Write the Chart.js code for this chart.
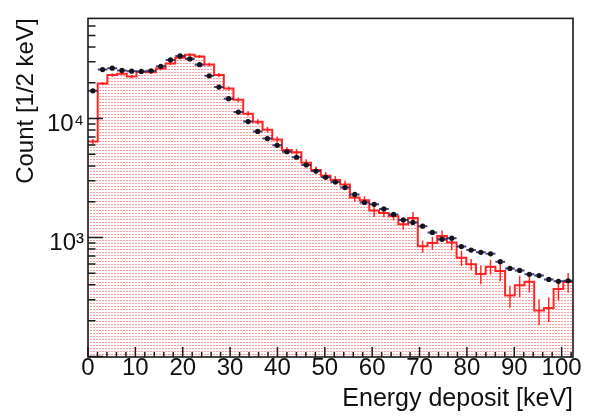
<!DOCTYPE html>
<html>
<head>
<meta charset="utf-8">
<script src="https://cdn.jsdelivr.net/npm/chart.js@4.4.1/dist/chart.umd.min.js"></script>
<style>
  body { margin: 0; background: #fff; }
  #wrap { width: 594px; height: 416px; }
</style>
</head>
<body>
<div id="wrap"><canvas id="edep" width="594" height="416"></canvas></div>
<script>
// binning (50 bins)
const nBins = 50
const binWidth = 2.048
const xMax = 102.4

// red histogram, counts per bin
const mcCounts = [
  6400, 19700, 23200, 23800, 22600, 24700, 24500, 26300, 29000, 32400,
  34400, 33300, 28500, 23200, 17900, 14400, 11000, 9400, 8040, 6670,
  5450, 5220, 4250, 3700, 3310, 3050, 2785, 2170, 2060, 1690,
  1607, 1510, 1290, 1460, 845, 900, 1030, 906, 675, 596,
  494, 568, 523, 325, 397, 425, 243, 255, 369, 423
]
const mcErrors = [
  320, 600, 700, 700, 680, 740, 740, 790, 860, 970,
  1030, 1000, 1000, 930, 720, 650, 550, 470, 440, 400,
  330, 340, 300, 260, 250, 240, 220, 175, 165, 200,
  130, 120, 130, 175, 100, 110, 115, 125, 100, 65,
  90, 80, 95, 68, 80, 80, 60, 60, 74, 80
]

// black points, counts per bin
const dataCounts = [
  17100, 25800, 26500, 25400, 25000, 24900, 25200, 27500, 31100, 33600,
  31700, 28400, 22850, 18400, 14700, 11340, 9430, 7800, 6790, 5960,
  5260, 4730, 4070, 3620, 3210, 2930, 2630, 2305, 1970, 1900,
  1740, 1565, 1405, 1340, 1245, 1104, 968, 987, 840, 784,
  751, 730, 626, 550, 529, 491, 479, 444, 428, 433
]

// axis ticks
const xTicks = [0, 10, 20, 30, 40, 50, 60, 70, 80, 90, 100]
const yTicks = [1000, 10000]
const yTickLabels = ['10³', '10⁴']

Chart.defaults.font.family = "'Liberation Sans', Arial, sans-serif"
Chart.defaults.color = '#111'

function makeFillPattern() {
  const c = document.createElement('canvas')
  c.width = 3
  c.height = 3
  const g = c.getContext('2d')
  g.fillStyle = '#ff9c9c'
  g.fillRect(0, 0, 2, 1)
  return g.createPattern(c, 'repeat')
}

let histPts = []
let mcErrPts = []
let xErrPts = []
let dataPts = []

for (let i = 0; i < nBins; i++) {
  const lo = i * binWidth
  const hi = lo + binWidth
  const mid = lo + binWidth / 2
  histPts.push({x: lo, y: mcCounts[i]})
  mcErrPts.push({x: mid, y: mcCounts[i] - mcErrors[i]}, {x: mid, y: mcCounts[i] + mcErrors[i]}, {x: mid, y: null})
  xErrPts.push({x: lo, y: dataCounts[i]}, {x: hi, y: dataCounts[i]}, {x: hi, y: null})
  dataPts.push({x: mid, y: dataCounts[i]})
}
histPts.push({x: xMax, y: mcCounts[nBins - 1]})

const frameTicks = {
  id: 'frameTicks',
  afterDatasetsDraw(chart) {
    const {ctx, chartArea: a, scales: {x, y}} = chart
    ctx.save()
    ctx.strokeStyle = '#1a1a1a'
    ctx.lineWidth = 1.5
    ctx.beginPath()
    for (let v = 0; v <= xMax; v += 2) {
      const px = x.getPixelForValue(v)
      const len = v % 10 === 0 ? 10 : 5
      ctx.moveTo(px, a.bottom)
      ctx.lineTo(px, a.bottom - len)
    }
    for (let dec = 100; dec <= 10000; dec *= 10) {
      for (let m = 1; m <= 9; m++) {
        const v = m * dec
        if (v < y.min || v > y.max) continue
        const py = y.getPixelForValue(v)
        const len = m === 1 ? 15 : 7.5
        ctx.moveTo(a.left, py)
        ctx.lineTo(a.left + len, py)
      }
    }
    ctx.stroke()
    ctx.lineWidth = 1.6
    ctx.strokeRect(a.left, a.top, a.right - a.left, a.bottom - a.top)
    ctx.restore()
  }
}

const edepChart = new Chart('edep', {
  type: 'line',
  data: {
    datasets: [{
      label: 'data',
      type: 'scatter',
      data: dataPts,
      pointStyle: 'circle',
      pointRadius: 2.6,
      pointBackgroundColor: '#151515',
      pointBorderWidth: 0,
      order: 0
    }, {
      label: 'data x-err',
      data: xErrPts,
      borderColor: 'rgba(35,35,125,0.85)',
      borderWidth: 2,
      pointRadius: 0,
      spanGaps: false,
      order: 1
    }, {
      label: 'mc err',
      data: mcErrPts,
      borderColor: 'rgba(255,20,20,0.9)',
      borderWidth: 1.5,
      pointRadius: 0,
      spanGaps: false,
      order: 2
    }, {
      label: 'mc',
      data: histPts,
      stepped: 'before',
      borderColor: 'rgba(255,20,20,0.92)',
      borderWidth: 2,
      pointRadius: 0,
      fill: 'start',
      backgroundColor: makeFillPattern(),
      order: 3
    }]
  },
  options: {
    responsive: false,
    animation: false,
    layout: { padding: { top: 9, right: 21, left: 0, bottom: 0 } },
    plugins: {
      legend: { display: false },
      tooltip: { enabled: false }
    },
    scales: {
      x: {
        type: 'linear',
        min: 0,
        max: xMax,
        grid: { display: false, drawTicks: false },
        border: { display: false },
        afterBuildTicks: s => { s.ticks = xTicks.map(v => ({value: v})) },
        afterFit: s => { s.height = 59 },
        ticks: {
          autoSkip: false,
          maxRotation: 0,
          padding: -1,
          font: { size: 24, lineHeight: 1 }
        },
        title: {
          display: true,
          text: 'Energy deposit [keV]',
          align: 'end',
          font: { size: 25 },
          padding: { top: 0, bottom: 2 }
        }
      },
      y: {
        type: 'logarithmic',
        min: 99,
        max: 69500,
        grid: { display: false, drawTicks: false },
        border: { display: false },
        afterBuildTicks: s => { s.ticks = yTicks.map(v => ({value: v})) },
        afterFit: s => { s.width = 88 },
        ticks: {
          autoSkip: false,
          padding: 4,
          labelOffset: 6,
          font: { size: 24 },
          callback: (v) => yTickLabels[yTicks.indexOf(v)]
        },
        title: {
          display: true,
          text: 'Count [1/2 keV]',
          align: 'end',
          font: { size: 24 },
          padding: { top: 12, bottom: 0 }
        }
      }
    }
  },
  plugins: [frameTicks]
})
</script>
</body>
</html>
